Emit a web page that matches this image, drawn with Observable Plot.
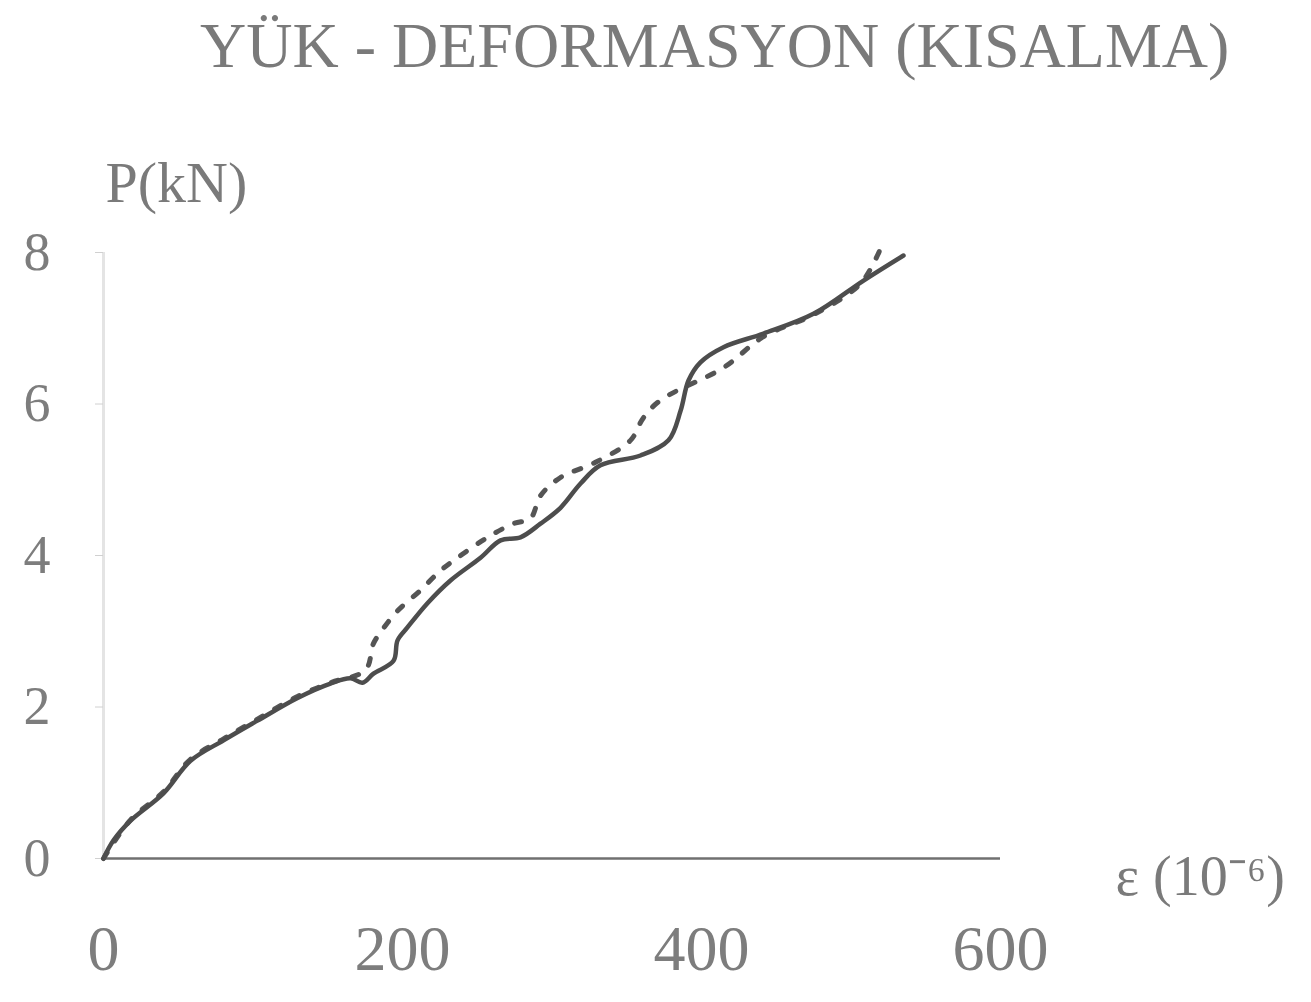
<!DOCTYPE html>
<html><head><meta charset="utf-8">
<script src="https://cdn.jsdelivr.net/npm/d3@7"></script>
<script src="https://cdn.jsdelivr.net/npm/@observablehq/plot@0.6"></script>
<style>
body{margin:0;background:#fff;width:1311px;height:1002px;overflow:hidden;}
#title{height:110px;box-sizing:border-box;padding-left:200px;padding-top:14px;font-family:"Liberation Serif",serif;font-size:64px;line-height:64px;color:#7a7a7a;white-space:nowrap;}
</style></head><body>
<div id="title">YÜK - DEFORMASYON (KISALMA)</div>
<div id="chart"></div>
<script>
// Solid curve: strain (10^-6) vs load P (kN)
const solidStrain = [0, 6.7, 18.1, 40.1, 58.2, 80.3, 103, 129.8, 151.8, 165.2, 173.2, 180.6, 194, 196.7, 203.3, 216.7, 232.1, 252.2, 265.6, 278.9, 292.3, 305.7, 319.1, 332.4, 359.2, 377.9, 386, 391.3, 399.3, 414.7, 441.5, 474.9, 508.4, 535.1];
const solidLoad   = [0, 0.24, 0.50, 0.86, 1.29, 1.56, 1.82, 2.12, 2.31, 2.38, 2.32, 2.44, 2.61, 2.88, 3.05, 3.37, 3.67, 3.97, 4.20, 4.24, 4.42, 4.63, 4.95, 5.19, 5.32, 5.52, 5.91, 6.31, 6.55, 6.75, 6.93, 7.19, 7.63, 7.96];
// Dashed curve
const dashStrain = [0, 18.1, 40.1, 58.2, 80.3, 103, 129.8, 151.8, 175.3, 180.6, 187.3, 196.7, 212, 225.4, 236.8, 256.9, 274.2, 285.6, 292.3, 305.7, 329.1, 352.5, 361.2, 372.6, 414.7, 441.5, 474.9, 506.4, 519.7];
const dashLoad   = [0, 0.51, 0.88, 1.31, 1.58, 1.84, 2.14, 2.32, 2.49, 2.84, 3.04, 3.27, 3.54, 3.80, 3.97, 4.24, 4.42, 4.49, 4.79, 5.03, 5.23, 5.52, 5.82, 6.05, 6.48, 6.89, 7.18, 7.59, 8.05];
const xTicks = [0, 200, 400, 600];
const yTicks = [0, 2, 4, 6, 8];

const solid = solidStrain.map((x, i) => ({x, y: solidLoad[i]}));
const dashed = dashStrain.map((x, i) => ({x, y: dashLoad[i]}));

const chart = Plot.plot({
  width: 1311, height: 892,
  marginLeft: 103, marginRight: 311, marginTop: 142, marginBottom: 144,
  x: {domain: [0, 600]},
  y: {domain: [0, 8]},
  style: {fontFamily: "Liberation Serif", color: "#7d7d7d", background: "#fff", overflow: "visible"},
  marks: [
    Plot.ruleX([0], {stroke: "#e4e4e4", strokeWidth: 3}),
    Plot.axisY({ticks: yTicks, tickSize: 8, tickPadding: 45, fontSize: 54, stroke: "#d0d0d0", fill: "#7d7d7d", label: null, tickFormat: d => String(d)}),
    Plot.axisX({ticks: xTicks, tickSize: 0, tickPadding: 66, fontSize: 64, fill: "#7d7d7d", label: null, tickFormat: d => String(d)}),
    Plot.ruleY([0], {stroke: "#707070", strokeWidth: 2.5}),
    Plot.line(dashed, {x: "x", y: "y", stroke: "#555", strokeWidth: 5, strokeDasharray: "7,14", curve: "catmull-rom"}),
    Plot.line(solid, {x: "x", y: "y", stroke: "#4d4d4d", strokeWidth: 4.5, curve: "catmull-rom"}),
    Plot.text(["P(kN)"], {frameAnchor: "top-left", dx: 2, dy: -92, textAnchor: "start", fontSize: 58, fill: "#7a7a7a"}),
    Plot.text(["ε (10⁻⁶)"], {frameAnchor: "bottom-right", dx: 115, dy: 36, textAnchor: "start", fontSize: 56, fill: "#7a7a7a"})
  ]
});
document.getElementById("chart").appendChild(chart);
</script>
</body></html>
